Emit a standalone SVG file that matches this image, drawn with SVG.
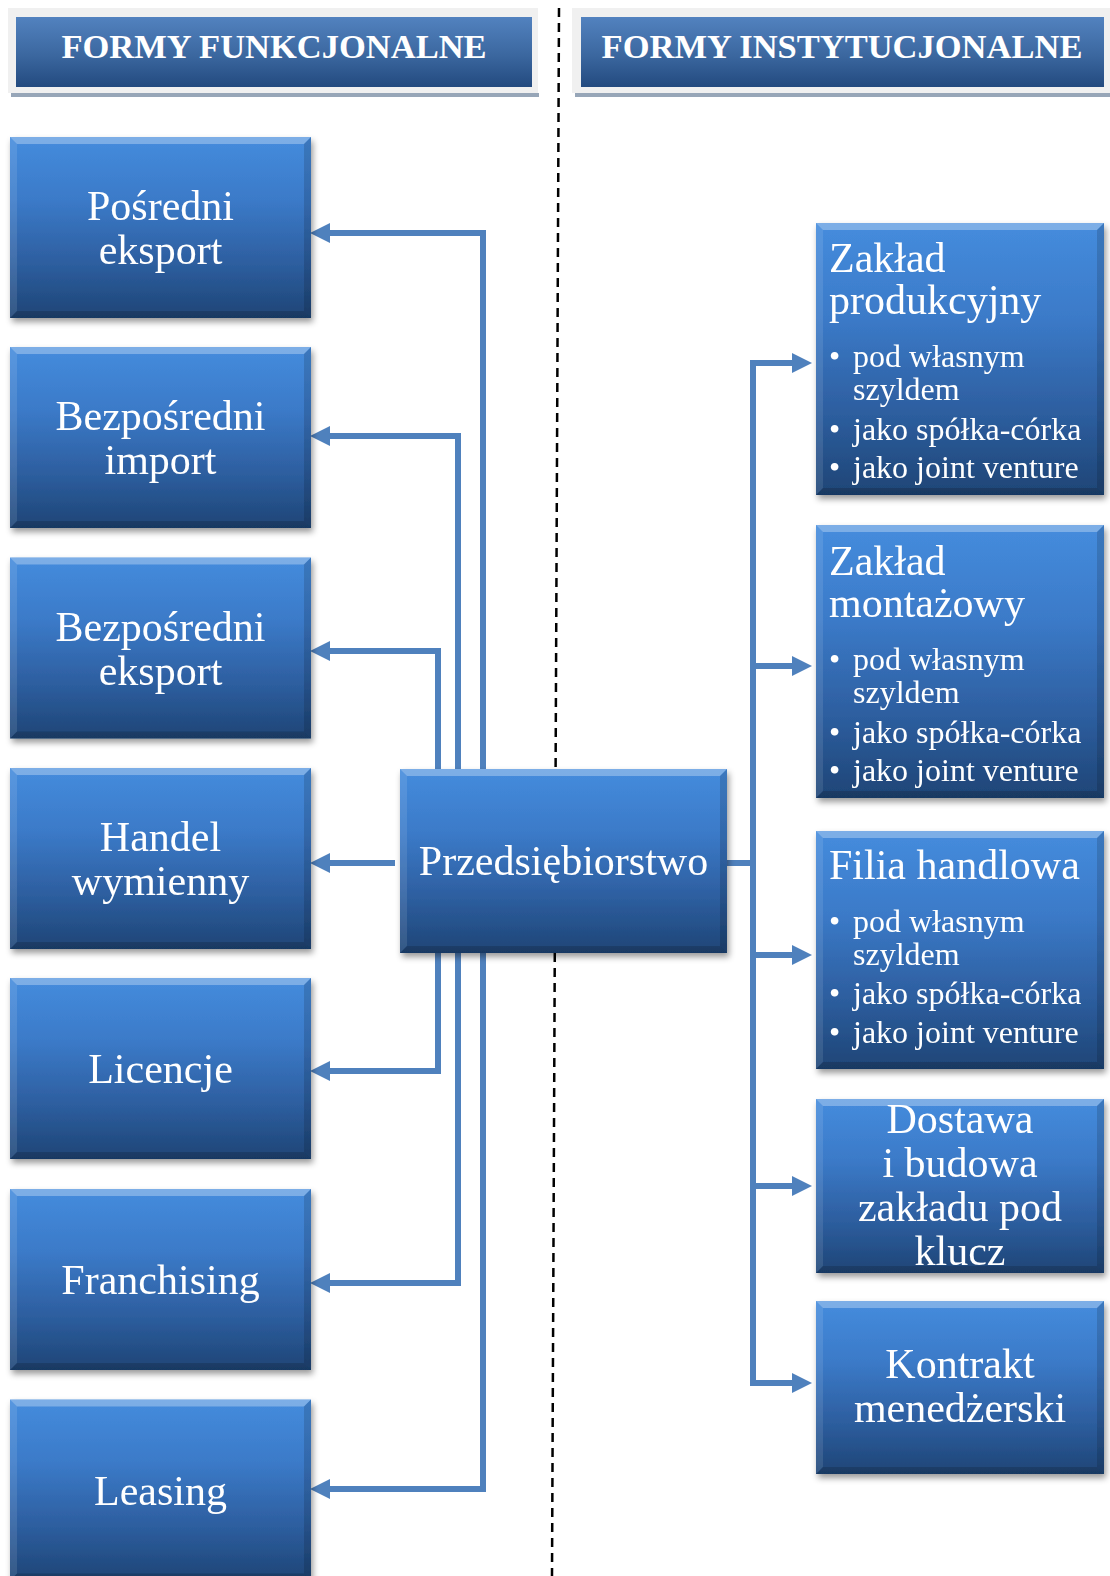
<svg xmlns="http://www.w3.org/2000/svg" width="1110" height="1576" viewBox="0 0 1110 1576">
  <defs>
    <linearGradient id="boxFill" x1="0" y1="0" x2="0" y2="1">
      <stop offset="0" stop-color="#458cdd"/>
      <stop offset="0.35" stop-color="#3b7ac8"/>
      <stop offset="0.7" stop-color="#2d5e9f"/>
      <stop offset="1" stop-color="#1e4576"/>
    </linearGradient>
    <linearGradient id="headFill" x1="0" y1="0" x2="0" y2="1">
      <stop offset="0" stop-color="#5282bf"/>
      <stop offset="0.55" stop-color="#3b679f"/>
      <stop offset="1" stop-color="#234a7f"/>
    </linearGradient>
    <filter id="shadow" x="-10%" y="-10%" width="125%" height="125%">
      <feDropShadow dx="2" dy="4" stdDeviation="3" flood-color="#000" flood-opacity="0.4"/>
    </filter>
    <marker id="arrow" viewBox="0 0 20 20" refX="4" refY="10" markerWidth="20" markerHeight="20" markerUnits="userSpaceOnUse" orient="auto-start-reverse">
      <path d="M0,0 L20,10 L0,20 z" fill="#4f81bd"/>
    </marker>
    <style>
      .box { fill: url(#boxFill); }
      .bt { fill: #ffffff; fill-opacity: 0.30; }
      .bl { fill: #ffffff; fill-opacity: 0.10; }
      .br { fill: #000000; fill-opacity: 0.14; }
      .bb { fill: #000000; fill-opacity: 0.16; }
      .node { filter: url(#shadow); }
      .lbl { font-family: "Liberation Serif", "Times New Roman", serif; font-size: 42px; fill: #ffffff; text-anchor: middle; }
      .ttl { font-family: "Liberation Serif", "Times New Roman", serif; font-size: 42px; fill: #ffffff; }
      .itm { font-family: "Liberation Serif", "Times New Roman", serif; font-size: 32px; fill: #ffffff; }
      .head { font-family: "Liberation Serif", "Times New Roman", serif; font-size: 34.5px; font-weight: bold; fill: #ffffff; text-anchor: middle; }
      .conn { fill: none; stroke: #4f81bd; stroke-width: 6; stroke-linejoin: miter; }
    </style>
  </defs>

  <rect width="1110" height="1576" fill="#ffffff"/>

  <!-- column headers -->
  <g id="head-functional">
    <rect x="11" y="93" width="528" height="4" fill="#97a6b8"/>
    <rect x="8" y="8" width="530" height="85" fill="#f0f0f0"/>
    <rect x="16" y="17" width="516" height="70" fill="url(#headFill)"/>
    <text class="head" x="274" y="58">FORMY FUNKCJONALNE</text>
  </g>
  <g id="head-institutional">
    <rect x="575" y="93" width="535" height="4" fill="#97a6b8"/>
    <rect x="572" y="8" width="538" height="85" fill="#f0f0f0"/>
    <rect x="581" y="17" width="523" height="70" fill="url(#headFill)"/>
    <text class="head" x="842" y="58">FORMY INSTYTUCJONALNE</text>
  </g>

  <!-- column divider -->
  <line x1="559" y1="8" x2="552" y2="1576" stroke="#000000" stroke-width="2.5" stroke-dasharray="9 6"/>

  <!-- connectors -->
  <g id="connectors">
    <path class="conn" d="M483,769 V233 H326" marker-end="url(#arrow)"/>
    <path class="conn" d="M458,769 V436 H326" marker-end="url(#arrow)"/>
    <path class="conn" d="M438,769 V651 H326" marker-end="url(#arrow)"/>
    <path class="conn" d="M395,863 H326" marker-end="url(#arrow)"/>
    <path class="conn" d="M438,953 V1071 H326" marker-end="url(#arrow)"/>
    <path class="conn" d="M458,953 V1283 H326" marker-end="url(#arrow)"/>
    <path class="conn" d="M483,953 V1489 H326" marker-end="url(#arrow)"/>

    <path class="conn" d="M724,863 H753"/>
    <path class="conn" d="M796,363 H753 V1383 H796" marker-start="url(#arrow)" marker-end="url(#arrow)"/>
    <path class="conn" d="M753,666 H796" marker-end="url(#arrow)"/>
    <path class="conn" d="M753,955 H796" marker-end="url(#arrow)"/>
    <path class="conn" d="M753,1186 H796" marker-end="url(#arrow)"/>
  </g>

  <!-- functional forms -->
  <g id="posredni-eksport" class="node" transform="translate(10,137)">
    <rect class="box" width="301" height="181"/>
    <polygon class="bt" points="0,0 301,0 294,7 7,7"/><polygon class="bl" points="0,0 7,7 7,174 0,181"/>
    <polygon class="br" points="301,0 301,181 294,174 294,7"/><polygon class="bb" points="0,181 7,174 294,174 301,181"/>
    <text class="lbl" x="150.5" y="83">Pośredni</text>
    <text class="lbl" x="150.5" y="127">eksport</text>
  </g>
  <g id="bezposredni-import" class="node" transform="translate(10,347)">
    <rect class="box" width="301" height="181"/>
    <polygon class="bt" points="0,0 301,0 294,7 7,7"/><polygon class="bl" points="0,0 7,7 7,174 0,181"/>
    <polygon class="br" points="301,0 301,181 294,174 294,7"/><polygon class="bb" points="0,181 7,174 294,174 301,181"/>
    <text class="lbl" x="150.5" y="83">Bezpośredni</text>
    <text class="lbl" x="150.5" y="127">import</text>
  </g>
  <g id="bezposredni-eksport" class="node" transform="translate(10,557.5)">
    <rect class="box" width="301" height="181"/>
    <polygon class="bt" points="0,0 301,0 294,7 7,7"/><polygon class="bl" points="0,0 7,7 7,174 0,181"/>
    <polygon class="br" points="301,0 301,181 294,174 294,7"/><polygon class="bb" points="0,181 7,174 294,174 301,181"/>
    <text class="lbl" x="150.5" y="83">Bezpośredni</text>
    <text class="lbl" x="150.5" y="127">eksport</text>
  </g>
  <g id="handel-wymienny" class="node" transform="translate(10,768)">
    <rect class="box" width="301" height="181"/>
    <polygon class="bt" points="0,0 301,0 294,7 7,7"/><polygon class="bl" points="0,0 7,7 7,174 0,181"/>
    <polygon class="br" points="301,0 301,181 294,174 294,7"/><polygon class="bb" points="0,181 7,174 294,174 301,181"/>
    <text class="lbl" x="150.5" y="83">Handel</text>
    <text class="lbl" x="150.5" y="127">wymienny</text>
  </g>
  <g id="licencje" class="node" transform="translate(10,978)">
    <rect class="box" width="301" height="181"/>
    <polygon class="bt" points="0,0 301,0 294,7 7,7"/><polygon class="bl" points="0,0 7,7 7,174 0,181"/>
    <polygon class="br" points="301,0 301,181 294,174 294,7"/><polygon class="bb" points="0,181 7,174 294,174 301,181"/>
    <text class="lbl" x="150.5" y="105">Licencje</text>
  </g>
  <g id="franchising" class="node" transform="translate(10,1189)">
    <rect class="box" width="301" height="181"/>
    <polygon class="bt" points="0,0 301,0 294,7 7,7"/><polygon class="bl" points="0,0 7,7 7,174 0,181"/>
    <polygon class="br" points="301,0 301,181 294,174 294,7"/><polygon class="bb" points="0,181 7,174 294,174 301,181"/>
    <text class="lbl" x="150.5" y="105">Franchising</text>
  </g>
  <g id="leasing" class="node" transform="translate(10,1399.5)">
    <rect class="box" width="301" height="181"/>
    <polygon class="bt" points="0,0 301,0 294,7 7,7"/><polygon class="bl" points="0,0 7,7 7,174 0,181"/>
    <polygon class="br" points="301,0 301,181 294,174 294,7"/><polygon class="bb" points="0,181 7,174 294,174 301,181"/>
    <text class="lbl" x="150.5" y="105">Leasing</text>
  </g>

  <!-- central node -->
  <g id="przedsiebiorstwo" class="node" transform="translate(400,769)">
    <rect class="box" width="327" height="184"/>
    <polygon class="bt" points="0,0 327,0 320,7 7,7"/><polygon class="bl" points="0,0 7,7 7,177 0,184"/>
    <polygon class="br" points="327,0 327,184 320,177 320,7"/><polygon class="bb" points="0,184 7,177 320,177 327,184"/>
    <text class="lbl" x="163.5" y="106">Przedsiębiorstwo</text>
  </g>

  <!-- institutional forms -->
  <g id="zaklad-produkcyjny" class="node" transform="translate(816,223)">
    <rect class="box" width="288" height="272"/>
    <polygon class="bt" points="0,0 288,0 281,7 7,7"/><polygon class="bl" points="0,0 7,7 7,265 0,272"/>
    <polygon class="br" points="288,0 288,272 281,265 281,7"/><polygon class="bb" points="0,272 7,265 281,265 288,272"/>
    <text class="ttl" x="13" y="49">Zakład</text>
    <text class="ttl" x="13" y="91">produkcyjny</text>
    <text class="itm" x="13" y="144">•</text><text class="itm" x="37" y="144">pod własnym</text>
    <text class="itm" x="37" y="177">szyldem</text>
    <text class="itm" x="13" y="217">•</text><text class="itm" x="37" y="217">jako spółka-córka</text>
    <text class="itm" x="13" y="255">•</text><text class="itm" x="37" y="255">jako joint venture</text>
  </g>
  <g id="zaklad-montazowy" class="node" transform="translate(816,525)">
    <rect class="box" width="288" height="273"/>
    <polygon class="bt" points="0,0 288,0 281,7 7,7"/><polygon class="bl" points="0,0 7,7 7,266 0,273"/>
    <polygon class="br" points="288,0 288,273 281,266 281,7"/><polygon class="bb" points="0,273 7,266 281,266 288,273"/>
    <text class="ttl" x="13" y="50">Zakład</text>
    <text class="ttl" x="13" y="92">montażowy</text>
    <text class="itm" x="13" y="145">•</text><text class="itm" x="37" y="145">pod własnym</text>
    <text class="itm" x="37" y="178">szyldem</text>
    <text class="itm" x="13" y="218">•</text><text class="itm" x="37" y="218">jako spółka-córka</text>
    <text class="itm" x="13" y="256">•</text><text class="itm" x="37" y="256">jako joint venture</text>
  </g>
  <g id="filia-handlowa" class="node" transform="translate(816,831)">
    <rect class="box" width="288" height="238"/>
    <polygon class="bt" points="0,0 288,0 281,7 7,7"/><polygon class="bl" points="0,0 7,7 7,231 0,238"/>
    <polygon class="br" points="288,0 288,238 281,231 281,7"/><polygon class="bb" points="0,238 7,231 281,231 288,238"/>
    <text class="ttl" x="13" y="48">Filia handlowa</text>
    <text class="itm" x="13" y="101">•</text><text class="itm" x="37" y="101">pod własnym</text>
    <text class="itm" x="37" y="134">szyldem</text>
    <text class="itm" x="13" y="173">•</text><text class="itm" x="37" y="173">jako spółka-córka</text>
    <text class="itm" x="13" y="212">•</text><text class="itm" x="37" y="212">jako joint venture</text>
  </g>
  <g id="dostawa-i-budowa" class="node" transform="translate(816,1099)">
    <rect class="box" width="288" height="174"/>
    <polygon class="bt" points="0,0 288,0 281,7 7,7"/><polygon class="bl" points="0,0 7,7 7,167 0,174"/>
    <polygon class="br" points="288,0 288,174 281,167 281,7"/><polygon class="bb" points="0,174 7,167 281,167 288,174"/>
    <text class="lbl" x="144" y="34">Dostawa</text>
    <text class="lbl" x="144" y="78">i budowa</text>
    <text class="lbl" x="144" y="122">zakładu pod</text>
    <text class="lbl" x="144" y="166">klucz</text>
  </g>
  <g id="kontrakt-menedzerski" class="node" transform="translate(816,1301)">
    <rect class="box" width="288" height="173"/>
    <polygon class="bt" points="0,0 288,0 281,7 7,7"/><polygon class="bl" points="0,0 7,7 7,166 0,173"/>
    <polygon class="br" points="288,0 288,173 281,166 281,7"/><polygon class="bb" points="0,173 7,166 281,166 288,173"/>
    <text class="lbl" x="144" y="77">Kontrakt</text>
    <text class="lbl" x="144" y="121">menedżerski</text>
  </g>
</svg>
